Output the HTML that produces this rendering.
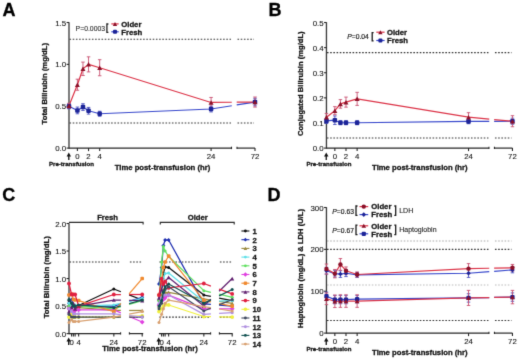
<!DOCTYPE html>
<html><head><meta charset="utf-8"><style>
html,body{margin:0;padding:0;background:#fff;}
body{width:520px;height:361px;overflow:hidden;font-family:"Liberation Sans", sans-serif;}
svg{display:block;}
</style></head><body>
<svg width="520" height="361" viewBox="0 0 520 361" font-family="&quot;Liberation Sans&quot;, sans-serif">
<defs><filter id="bl" x="0" y="0" width="520" height="361" filterUnits="userSpaceOnUse" color-interpolation-filters="sRGB"><feConvolveMatrix order="3" kernelMatrix="0.01134 0.08382 0.01134 0.08382 0.61935 0.08382 0.01134 0.08382 0.01134" divisor="1" edgeMode="duplicate"/></filter></defs>
<rect width="520" height="361" fill="#fff"/>
<g filter="url(#bl)">
<rect width="520" height="361" fill="#fff"/>
<text x="2.4" y="15.6" font-size="18" text-anchor="start" font-weight="bold" fill="#000" stroke="#000" stroke-width="0.3" >A</text>
<text x="268.6" y="15.6" font-size="18" text-anchor="start" font-weight="bold" fill="#000" stroke="#000" stroke-width="0.3" >B</text>
<text x="2.2" y="201.0" font-size="18" text-anchor="start" font-weight="bold" fill="#000" stroke="#000" stroke-width="0.3" >C</text>
<text x="267.4" y="200.6" font-size="18" text-anchor="start" font-weight="bold" fill="#000" stroke="#000" stroke-width="0.3" >D</text>
<line x1="69" y1="22.2" x2="69" y2="148.7" stroke="#3c3c3c" stroke-width="1.35" />
<line x1="66.6" y1="22.500000000000014" x2="69" y2="22.500000000000014" stroke="#262626" stroke-width="1.1" />
<text x="66.2" y="25.500000000000014" font-size="7.9" text-anchor="end" font-weight="normal" fill="#151515" stroke="#151515" stroke-width="0.1" >1.5</text>
<line x1="66.6" y1="64.36666666666666" x2="69" y2="64.36666666666666" stroke="#262626" stroke-width="1.1" />
<text x="66.2" y="67.36666666666666" font-size="7.9" text-anchor="end" font-weight="normal" fill="#151515" stroke="#151515" stroke-width="0.1" >1.0</text>
<line x1="66.6" y1="106.23333333333332" x2="69" y2="106.23333333333332" stroke="#262626" stroke-width="1.1" />
<text x="66.2" y="109.23333333333332" font-size="7.9" text-anchor="end" font-weight="normal" fill="#151515" stroke="#151515" stroke-width="0.1" >0.5</text>
<line x1="66.6" y1="148.1" x2="69" y2="148.1" stroke="#262626" stroke-width="1.1" />
<text x="66.2" y="151.1" font-size="7.9" text-anchor="end" font-weight="normal" fill="#151515" stroke="#151515" stroke-width="0.1" >0.0</text>
<line x1="69.5" y1="39.246666666666655" x2="231.0" y2="39.246666666666655" stroke="#333" stroke-width="1.1" stroke-dasharray="1.6 1.6" />
<line x1="237.5" y1="39.246666666666655" x2="254.0" y2="39.246666666666655" stroke="#333" stroke-width="1.1" stroke-dasharray="1.6 1.6" />
<line x1="69.5" y1="122.97999999999999" x2="231.0" y2="122.97999999999999" stroke="#333" stroke-width="1.1" stroke-dasharray="1.6 1.6" />
<line x1="237.5" y1="122.97999999999999" x2="254.0" y2="122.97999999999999" stroke="#333" stroke-width="1.1" stroke-dasharray="1.6 1.6" />
<line x1="69" y1="148.1" x2="231.5" y2="148.1" stroke="#262626" stroke-width="1.2" />
<line x1="237" y1="148.1" x2="255" y2="148.1" stroke="#262626" stroke-width="1.2" />
<line x1="231.5" y1="146.7" x2="231.5" y2="149.1" stroke="#262626" stroke-width="1.1" />
<line x1="237" y1="146.7" x2="237" y2="149.1" stroke="#262626" stroke-width="1.1" />
<line x1="77.4" y1="148.1" x2="77.4" y2="151.1" stroke="#262626" stroke-width="1.1" />
<text x="77.4" y="158.6" font-size="7.8" text-anchor="middle" font-weight="normal" fill="#151515" stroke="#151515" stroke-width="0.1" >0</text>
<line x1="88.54" y1="148.1" x2="88.54" y2="151.1" stroke="#262626" stroke-width="1.1" />
<text x="88.54" y="158.6" font-size="7.8" text-anchor="middle" font-weight="normal" fill="#151515" stroke="#151515" stroke-width="0.1" >2</text>
<line x1="99.68" y1="148.1" x2="99.68" y2="151.1" stroke="#262626" stroke-width="1.1" />
<text x="99.68" y="158.6" font-size="7.8" text-anchor="middle" font-weight="normal" fill="#151515" stroke="#151515" stroke-width="0.1" >4</text>
<line x1="211.08" y1="148.1" x2="211.08" y2="151.1" stroke="#262626" stroke-width="1.1" />
<text x="211.08" y="158.6" font-size="7.8" text-anchor="middle" font-weight="normal" fill="#151515" stroke="#151515" stroke-width="0.1" >24</text>
<line x1="255" y1="148.1" x2="255" y2="151.1" stroke="#262626" stroke-width="1.1" />
<text x="255" y="158.6" font-size="7.8" text-anchor="middle" font-weight="normal" fill="#151515" stroke="#151515" stroke-width="0.1" >72</text>
<line x1="68.8" y1="155.6" x2="68.8" y2="159.9" stroke="#111" stroke-width="1.3" />
<path d="M66.6,156.4 L71.0,156.4 L68.8,152.6Z" fill="#111"/>
<text x="71.5" y="165.95" font-size="6.1" text-anchor="middle" font-weight="bold" fill="#151515" stroke="#151515" stroke-width="0.3" >Pre-transfusion</text>
<text x="162.5" y="169.9" font-size="7.7" text-anchor="middle" font-weight="bold" fill="#151515" stroke="#151515" stroke-width="0.3" >Time post-transfusion (hr)</text>
<text transform="translate(47.1,83.72) rotate(-90)" font-size="7.7" text-anchor="middle" font-weight="bold" fill="#151515" stroke="#151515" stroke-width="0.3">Total Bilirubin (mg/dL)</text>
<polyline points="69.00,106.23 77.40,110.42 82.97,107.07 88.54,110.75 99.68,113.77 211.08,109.00 231.80,105.72" fill="none" stroke="#3848cc" stroke-width="1.2" stroke-linejoin="round"/>
<polyline points="236.70,104.94 255.00,102.05" fill="none" stroke="#3848cc" stroke-width="1.2" stroke-linejoin="round"/>
<polyline points="69.00,105.81 77.40,84.71 82.97,68.80 88.54,64.37 99.68,67.72 211.08,102.47 231.80,102.27" fill="none" stroke="#dc3448" stroke-width="1.2" stroke-linejoin="round"/>
<polyline points="236.70,102.22 255.00,102.05" fill="none" stroke="#dc3448" stroke-width="1.2" stroke-linejoin="round"/>
<line x1="69" y1="103.72233333333332" x2="69" y2="108.74433333333332" stroke="#4a50c0" stroke-width="0.9" />
<line x1="67.25" y1="103.72233333333332" x2="70.75" y2="103.72233333333332" stroke="#4a50c0" stroke-width="0.9" />
<line x1="67.25" y1="108.74433333333332" x2="70.75" y2="108.74433333333332" stroke="#4a50c0" stroke-width="0.9" />
<line x1="77.4" y1="107.07199999999999" x2="77.4" y2="113.76799999999999" stroke="#4a50c0" stroke-width="0.9" />
<line x1="75.65" y1="107.07199999999999" x2="79.15" y2="107.07199999999999" stroke="#4a50c0" stroke-width="0.9" />
<line x1="75.65" y1="113.76799999999999" x2="79.15" y2="113.76799999999999" stroke="#4a50c0" stroke-width="0.9" />
<line x1="82.97" y1="103.72266666666665" x2="82.97" y2="110.41866666666665" stroke="#4a50c0" stroke-width="0.9" />
<line x1="81.22" y1="103.72266666666665" x2="84.72" y2="103.72266666666665" stroke="#4a50c0" stroke-width="0.9" />
<line x1="81.22" y1="110.41866666666665" x2="84.72" y2="110.41866666666665" stroke="#4a50c0" stroke-width="0.9" />
<line x1="88.54" y1="107.40693333333333" x2="88.54" y2="114.10293333333333" stroke="#4a50c0" stroke-width="0.9" />
<line x1="86.79" y1="107.40693333333333" x2="90.29" y2="107.40693333333333" stroke="#4a50c0" stroke-width="0.9" />
<line x1="86.79" y1="114.10293333333333" x2="90.29" y2="114.10293333333333" stroke="#4a50c0" stroke-width="0.9" />
<line x1="99.68" y1="111.25833333333333" x2="99.68" y2="116.28033333333332" stroke="#4a50c0" stroke-width="0.9" />
<line x1="97.93" y1="111.25833333333333" x2="101.43" y2="111.25833333333333" stroke="#4a50c0" stroke-width="0.9" />
<line x1="97.93" y1="116.28033333333332" x2="101.43" y2="116.28033333333332" stroke="#4a50c0" stroke-width="0.9" />
<line x1="211.08" y1="106.06703333333333" x2="211.08" y2="111.92603333333334" stroke="#4a50c0" stroke-width="0.9" />
<line x1="209.33" y1="106.06703333333333" x2="212.83" y2="106.06703333333333" stroke="#4a50c0" stroke-width="0.9" />
<line x1="209.33" y1="111.92603333333334" x2="212.83" y2="111.92603333333334" stroke="#4a50c0" stroke-width="0.9" />
<line x1="255" y1="98.28016666666666" x2="255" y2="105.81316666666665" stroke="#4a50c0" stroke-width="0.9" />
<line x1="253.25" y1="98.28016666666666" x2="256.75" y2="98.28016666666666" stroke="#4a50c0" stroke-width="0.9" />
<line x1="253.25" y1="105.81316666666665" x2="256.75" y2="105.81316666666665" stroke="#4a50c0" stroke-width="0.9" />
<line x1="69" y1="103.30366666666666" x2="69" y2="108.32566666666665" stroke="#c85070" stroke-width="0.9" />
<line x1="67.25" y1="103.30366666666666" x2="70.75" y2="103.30366666666666" stroke="#c85070" stroke-width="0.9" />
<line x1="67.25" y1="108.32566666666665" x2="70.75" y2="108.32566666666665" stroke="#c85070" stroke-width="0.9" />
<line x1="77.4" y1="79.18966666666665" x2="77.4" y2="90.23806666666667" stroke="#c85070" stroke-width="0.9" />
<line x1="75.65" y1="79.18966666666665" x2="79.15" y2="79.18966666666665" stroke="#c85070" stroke-width="0.9" />
<line x1="75.65" y1="90.23806666666667" x2="79.15" y2="90.23806666666667" stroke="#c85070" stroke-width="0.9" />
<line x1="82.97" y1="62.10853333333334" x2="82.97" y2="75.50053333333334" stroke="#c85070" stroke-width="0.9" />
<line x1="81.22" y1="62.10853333333334" x2="84.72" y2="62.10853333333334" stroke="#c85070" stroke-width="0.9" />
<line x1="81.22" y1="75.50053333333334" x2="84.72" y2="75.50053333333334" stroke="#c85070" stroke-width="0.9" />
<line x1="88.54" y1="56.83366666666666" x2="88.54" y2="71.89966666666666" stroke="#c85070" stroke-width="0.9" />
<line x1="86.79" y1="56.83366666666666" x2="90.29" y2="56.83366666666666" stroke="#c85070" stroke-width="0.9" />
<line x1="86.79" y1="71.89966666666666" x2="90.29" y2="71.89966666666666" stroke="#c85070" stroke-width="0.9" />
<line x1="99.68" y1="59.68079999999999" x2="99.68" y2="75.7512" stroke="#c85070" stroke-width="0.9" />
<line x1="97.93" y1="59.68079999999999" x2="101.43" y2="59.68079999999999" stroke="#c85070" stroke-width="0.9" />
<line x1="97.93" y1="75.7512" x2="101.43" y2="75.7512" stroke="#c85070" stroke-width="0.9" />
<line x1="211.08" y1="97.44333333333331" x2="211.08" y2="107.48733333333332" stroke="#c85070" stroke-width="0.9" />
<line x1="209.33" y1="97.44333333333331" x2="212.83" y2="97.44333333333331" stroke="#c85070" stroke-width="0.9" />
<line x1="209.33" y1="107.48733333333332" x2="212.83" y2="107.48733333333332" stroke="#c85070" stroke-width="0.9" />
<line x1="255" y1="97.02466666666665" x2="255" y2="107.06866666666666" stroke="#c85070" stroke-width="0.9" />
<line x1="253.25" y1="97.02466666666665" x2="256.75" y2="97.02466666666665" stroke="#c85070" stroke-width="0.9" />
<line x1="253.25" y1="107.06866666666666" x2="256.75" y2="107.06866666666666" stroke="#c85070" stroke-width="0.9" />
<rect x="66.75" y="103.98" width="4.5" height="4.5" rx="1" fill="#1c2498"/>
<rect x="75.15" y="108.17" width="4.5" height="4.5" rx="1" fill="#1c2498"/>
<rect x="80.72" y="104.82" width="4.5" height="4.5" rx="1" fill="#1c2498"/>
<rect x="86.29" y="108.50" width="4.5" height="4.5" rx="1" fill="#1c2498"/>
<rect x="97.43" y="111.52" width="4.5" height="4.5" rx="1" fill="#1c2498"/>
<rect x="208.83" y="106.75" width="4.5" height="4.5" rx="1" fill="#1c2498"/>
<rect x="252.75" y="99.80" width="4.5" height="4.5" rx="1" fill="#1c2498"/>
<path d="M66.50,108.06 L71.50,108.06 L69.00,103.56Z" fill="#8c1028"/>
<path d="M74.90,86.96 L79.90,86.96 L77.40,82.46Z" fill="#8c1028"/>
<path d="M80.47,71.05 L85.47,71.05 L82.97,66.55Z" fill="#8c1028"/>
<path d="M86.04,66.62 L91.04,66.62 L88.54,62.12Z" fill="#8c1028"/>
<path d="M97.18,69.97 L102.18,69.97 L99.68,65.47Z" fill="#8c1028"/>
<path d="M208.58,104.72 L213.58,104.72 L211.08,100.22Z" fill="#8c1028"/>
<path d="M252.50,104.30 L257.50,104.30 L255.00,99.80Z" fill="#8c1028"/>
<text x="75.6" y="30.6" font-size="6.85" text-anchor="start" font-weight="normal" fill="#2a2a2a" stroke="#2a2a2a" stroke-width="0.1" >P=0.0003</text>
<path d="M108.4,24.0 H106.9 V32.4 H108.4" fill="none" stroke="#222" stroke-width="1.3"/>
<line x1="111.3" y1="23.9" x2="118.7" y2="23.9" stroke="#dc3448" stroke-width="1.2" />
<path d="M112.80,25.88 L117.20,25.88 L115.00,21.92Z" fill="#8c1028"/>
<line x1="111.3" y1="31.8" x2="118.7" y2="31.8" stroke="#3848cc" stroke-width="1.2" />
<rect x="113.00" y="29.80" width="4.0" height="4.0" rx="1" fill="#1c2498"/>
<text x="121.3" y="26.7" font-size="7.7" text-anchor="start" font-weight="bold" fill="#151515" stroke="#151515" stroke-width="0.3" >Older</text>
<text x="121.3" y="34.6" font-size="7.7" text-anchor="start" font-weight="bold" fill="#151515" stroke="#151515" stroke-width="0.3" >Fresh</text>
<line x1="326.45" y1="22.2" x2="326.45" y2="148.7" stroke="#3c3c3c" stroke-width="1.35" />
<line x1="324.05" y1="22.5" x2="326.45" y2="22.5" stroke="#262626" stroke-width="1.1" />
<text x="323.65" y="25.5" font-size="7.9" text-anchor="end" font-weight="normal" fill="#151515" stroke="#151515" stroke-width="0.1" >0.5</text>
<line x1="324.05" y1="47.61999999999999" x2="326.45" y2="47.61999999999999" stroke="#262626" stroke-width="1.1" />
<text x="323.65" y="50.61999999999999" font-size="7.9" text-anchor="end" font-weight="normal" fill="#151515" stroke="#151515" stroke-width="0.1" >0.4</text>
<line x1="324.05" y1="72.74" x2="326.45" y2="72.74" stroke="#262626" stroke-width="1.1" />
<text x="323.65" y="75.74" font-size="7.9" text-anchor="end" font-weight="normal" fill="#151515" stroke="#151515" stroke-width="0.1" >0.3</text>
<line x1="324.05" y1="97.85999999999999" x2="326.45" y2="97.85999999999999" stroke="#262626" stroke-width="1.1" />
<text x="323.65" y="100.85999999999999" font-size="7.9" text-anchor="end" font-weight="normal" fill="#151515" stroke="#151515" stroke-width="0.1" >0.2</text>
<line x1="324.05" y1="122.97999999999999" x2="326.45" y2="122.97999999999999" stroke="#262626" stroke-width="1.1" />
<text x="323.65" y="125.97999999999999" font-size="7.9" text-anchor="end" font-weight="normal" fill="#151515" stroke="#151515" stroke-width="0.1" >0.1</text>
<line x1="324.05" y1="148.1" x2="326.45" y2="148.1" stroke="#262626" stroke-width="1.1" />
<text x="323.65" y="151.1" font-size="7.9" text-anchor="end" font-weight="normal" fill="#151515" stroke="#151515" stroke-width="0.1" >0.0</text>
<line x1="326.95" y1="52.64399999999999" x2="488.45" y2="52.64399999999999" stroke="#333" stroke-width="1.1" stroke-dasharray="1.6 1.6" />
<line x1="494.95" y1="52.64399999999999" x2="511.45000000000005" y2="52.64399999999999" stroke="#333" stroke-width="1.1" stroke-dasharray="1.6 1.6" />
<line x1="326.95" y1="138.052" x2="488.45" y2="138.052" stroke="#333" stroke-width="1.1" stroke-dasharray="1.6 1.6" />
<line x1="494.95" y1="138.052" x2="511.45000000000005" y2="138.052" stroke="#333" stroke-width="1.1" stroke-dasharray="1.6 1.6" />
<line x1="326.45" y1="148.1" x2="488.95" y2="148.1" stroke="#262626" stroke-width="1.2" />
<line x1="494.45" y1="148.1" x2="512.45" y2="148.1" stroke="#262626" stroke-width="1.2" />
<line x1="488.95" y1="146.7" x2="488.95" y2="149.1" stroke="#262626" stroke-width="1.1" />
<line x1="494.45" y1="146.7" x2="494.45" y2="149.1" stroke="#262626" stroke-width="1.1" />
<line x1="334.84999999999997" y1="148.1" x2="334.84999999999997" y2="151.1" stroke="#262626" stroke-width="1.1" />
<text x="334.84999999999997" y="158.6" font-size="7.8" text-anchor="middle" font-weight="normal" fill="#151515" stroke="#151515" stroke-width="0.1" >0</text>
<line x1="345.98999999999995" y1="148.1" x2="345.98999999999995" y2="151.1" stroke="#262626" stroke-width="1.1" />
<text x="345.98999999999995" y="158.6" font-size="7.8" text-anchor="middle" font-weight="normal" fill="#151515" stroke="#151515" stroke-width="0.1" >2</text>
<line x1="357.13" y1="148.1" x2="357.13" y2="151.1" stroke="#262626" stroke-width="1.1" />
<text x="357.13" y="158.6" font-size="7.8" text-anchor="middle" font-weight="normal" fill="#151515" stroke="#151515" stroke-width="0.1" >4</text>
<line x1="468.53" y1="148.1" x2="468.53" y2="151.1" stroke="#262626" stroke-width="1.1" />
<text x="468.53" y="158.6" font-size="7.8" text-anchor="middle" font-weight="normal" fill="#151515" stroke="#151515" stroke-width="0.1" >24</text>
<line x1="512.45" y1="148.1" x2="512.45" y2="151.1" stroke="#262626" stroke-width="1.1" />
<text x="512.45" y="158.6" font-size="7.8" text-anchor="middle" font-weight="normal" fill="#151515" stroke="#151515" stroke-width="0.1" >72</text>
<line x1="326.25" y1="155.6" x2="326.25" y2="159.9" stroke="#111" stroke-width="1.3" />
<path d="M324.05,156.4 L328.45,156.4 L326.25,152.6Z" fill="#111"/>
<text x="328.95" y="165.95" font-size="6.1" text-anchor="middle" font-weight="bold" fill="#151515" stroke="#151515" stroke-width="0.3" >Pre-transfusion</text>
<text x="419.85" y="169.5" font-size="7.7" text-anchor="middle" font-weight="bold" fill="#151515" stroke="#151515" stroke-width="0.3" >Time post-transfusion (hr)</text>
<text transform="translate(303.4,83.75) rotate(-90)" font-size="7.6" text-anchor="middle" font-weight="bold" fill="#151515" stroke="#151515" stroke-width="0.3">Conjugated Bilirubin (mg/dL)</text>
<polyline points="326.45,120.97 334.85,120.22 340.42,122.73 345.99,122.73 357.13,122.73 468.53,121.47 489.25,121.35" fill="none" stroke="#3848cc" stroke-width="1.2" stroke-linejoin="round"/>
<polyline points="494.15,121.33 512.45,121.22" fill="none" stroke="#3848cc" stroke-width="1.2" stroke-linejoin="round"/>
<polyline points="326.45,117.20 334.85,110.67 340.42,103.89 345.99,102.13 357.13,98.86 468.53,117.20 489.25,119.10" fill="none" stroke="#dc3448" stroke-width="1.2" stroke-linejoin="round"/>
<polyline points="494.15,119.55 512.45,121.22" fill="none" stroke="#dc3448" stroke-width="1.2" stroke-linejoin="round"/>
<line x1="326.45" y1="118.4584" x2="326.45" y2="123.4824" stroke="#4a50c0" stroke-width="0.9" />
<line x1="324.7" y1="118.4584" x2="328.2" y2="118.4584" stroke="#4a50c0" stroke-width="0.9" />
<line x1="324.7" y1="123.4824" x2="328.2" y2="123.4824" stroke="#4a50c0" stroke-width="0.9" />
<line x1="334.84999999999997" y1="115.9464" x2="334.84999999999997" y2="124.48719999999999" stroke="#4a50c0" stroke-width="0.9" />
<line x1="333.09999999999997" y1="115.9464" x2="336.59999999999997" y2="115.9464" stroke="#4a50c0" stroke-width="0.9" />
<line x1="333.09999999999997" y1="124.48719999999999" x2="336.59999999999997" y2="124.48719999999999" stroke="#4a50c0" stroke-width="0.9" />
<line x1="340.41999999999996" y1="120.71919999999999" x2="340.41999999999996" y2="124.7384" stroke="#4a50c0" stroke-width="0.9" />
<line x1="338.66999999999996" y1="120.71919999999999" x2="342.16999999999996" y2="120.71919999999999" stroke="#4a50c0" stroke-width="0.9" />
<line x1="338.66999999999996" y1="124.7384" x2="342.16999999999996" y2="124.7384" stroke="#4a50c0" stroke-width="0.9" />
<line x1="345.98999999999995" y1="120.71919999999999" x2="345.98999999999995" y2="124.7384" stroke="#4a50c0" stroke-width="0.9" />
<line x1="344.23999999999995" y1="120.71919999999999" x2="347.73999999999995" y2="120.71919999999999" stroke="#4a50c0" stroke-width="0.9" />
<line x1="344.23999999999995" y1="124.7384" x2="347.73999999999995" y2="124.7384" stroke="#4a50c0" stroke-width="0.9" />
<line x1="357.13" y1="120.71919999999999" x2="357.13" y2="124.7384" stroke="#4a50c0" stroke-width="0.9" />
<line x1="355.38" y1="120.71919999999999" x2="358.88" y2="120.71919999999999" stroke="#4a50c0" stroke-width="0.9" />
<line x1="355.38" y1="124.7384" x2="358.88" y2="124.7384" stroke="#4a50c0" stroke-width="0.9" />
<line x1="468.53" y1="119.21199999999999" x2="468.53" y2="123.7336" stroke="#4a50c0" stroke-width="0.9" />
<line x1="466.78" y1="119.21199999999999" x2="470.28" y2="119.21199999999999" stroke="#4a50c0" stroke-width="0.9" />
<line x1="466.78" y1="123.7336" x2="470.28" y2="123.7336" stroke="#4a50c0" stroke-width="0.9" />
<line x1="512.45" y1="118.2072" x2="512.45" y2="124.23599999999999" stroke="#4a50c0" stroke-width="0.9" />
<line x1="510.70000000000005" y1="118.2072" x2="514.2" y2="118.2072" stroke="#4a50c0" stroke-width="0.9" />
<line x1="510.70000000000005" y1="124.23599999999999" x2="514.2" y2="124.23599999999999" stroke="#4a50c0" stroke-width="0.9" />
<line x1="326.45" y1="113.4344" x2="326.45" y2="120.9704" stroke="#c85070" stroke-width="0.9" />
<line x1="324.7" y1="113.4344" x2="328.2" y2="113.4344" stroke="#c85070" stroke-width="0.9" />
<line x1="324.7" y1="120.9704" x2="328.2" y2="120.9704" stroke="#c85070" stroke-width="0.9" />
<line x1="334.84999999999997" y1="106.652" x2="334.84999999999997" y2="114.6904" stroke="#c85070" stroke-width="0.9" />
<line x1="333.09999999999997" y1="106.652" x2="336.59999999999997" y2="106.652" stroke="#c85070" stroke-width="0.9" />
<line x1="333.09999999999997" y1="114.6904" x2="336.59999999999997" y2="114.6904" stroke="#c85070" stroke-width="0.9" />
<line x1="340.41999999999996" y1="99.61840000000001" x2="340.41999999999996" y2="108.1592" stroke="#c85070" stroke-width="0.9" />
<line x1="338.66999999999996" y1="99.61840000000001" x2="342.16999999999996" y2="99.61840000000001" stroke="#c85070" stroke-width="0.9" />
<line x1="338.66999999999996" y1="108.1592" x2="342.16999999999996" y2="108.1592" stroke="#c85070" stroke-width="0.9" />
<line x1="345.98999999999995" y1="97.1064" x2="345.98999999999995" y2="107.1544" stroke="#c85070" stroke-width="0.9" />
<line x1="344.23999999999995" y1="97.1064" x2="347.73999999999995" y2="97.1064" stroke="#c85070" stroke-width="0.9" />
<line x1="344.23999999999995" y1="107.1544" x2="347.73999999999995" y2="107.1544" stroke="#c85070" stroke-width="0.9" />
<line x1="357.13" y1="92.3336" x2="357.13" y2="105.396" stroke="#c85070" stroke-width="0.9" />
<line x1="355.38" y1="92.3336" x2="358.88" y2="92.3336" stroke="#c85070" stroke-width="0.9" />
<line x1="355.38" y1="105.396" x2="358.88" y2="105.396" stroke="#c85070" stroke-width="0.9" />
<line x1="468.53" y1="112.6808" x2="468.53" y2="121.72399999999999" stroke="#c85070" stroke-width="0.9" />
<line x1="466.78" y1="112.6808" x2="470.28" y2="112.6808" stroke="#c85070" stroke-width="0.9" />
<line x1="466.78" y1="121.72399999999999" x2="470.28" y2="121.72399999999999" stroke="#c85070" stroke-width="0.9" />
<line x1="512.45" y1="115.6952" x2="512.45" y2="126.74799999999999" stroke="#c85070" stroke-width="0.9" />
<line x1="510.70000000000005" y1="115.6952" x2="514.2" y2="115.6952" stroke="#c85070" stroke-width="0.9" />
<line x1="510.70000000000005" y1="126.74799999999999" x2="514.2" y2="126.74799999999999" stroke="#c85070" stroke-width="0.9" />
<rect x="324.20" y="118.72" width="4.5" height="4.5" rx="1" fill="#1c2498"/>
<rect x="332.60" y="117.97" width="4.5" height="4.5" rx="1" fill="#1c2498"/>
<rect x="338.17" y="120.48" width="4.5" height="4.5" rx="1" fill="#1c2498"/>
<rect x="343.74" y="120.48" width="4.5" height="4.5" rx="1" fill="#1c2498"/>
<rect x="354.88" y="120.48" width="4.5" height="4.5" rx="1" fill="#1c2498"/>
<rect x="466.28" y="119.22" width="4.5" height="4.5" rx="1" fill="#1c2498"/>
<rect x="510.20" y="118.97" width="4.5" height="4.5" rx="1" fill="#1c2498"/>
<path d="M323.95,119.45 L328.95,119.45 L326.45,114.95Z" fill="#8c1028"/>
<path d="M332.35,112.92 L337.35,112.92 L334.85,108.42Z" fill="#8c1028"/>
<path d="M337.92,106.14 L342.92,106.14 L340.42,101.64Z" fill="#8c1028"/>
<path d="M343.49,104.38 L348.49,104.38 L345.99,99.88Z" fill="#8c1028"/>
<path d="M354.63,101.11 L359.63,101.11 L357.13,96.61Z" fill="#8c1028"/>
<path d="M466.03,119.45 L471.03,119.45 L468.53,114.95Z" fill="#8c1028"/>
<path d="M509.95,123.47 L514.95,123.47 L512.45,118.97Z" fill="#8c1028"/>
<text x="347.2" y="38.8" font-size="6.75" fill="#1a1a1a" stroke="#1a1a1a" stroke-width="0.18"><tspan font-style="italic">P</tspan>=0.04</text>
<path d="M373.6,32.6 H372.2 V40.8 H373.6" fill="none" stroke="#1a1a1a" stroke-width="1.3"/>
<line x1="376.3" y1="32.2" x2="384.6" y2="32.2" stroke="#dc3448" stroke-width="1.2" />
<path d="M378.20,34.18 L382.60,34.18 L380.40,30.22Z" fill="#8c1028"/>
<line x1="376.3" y1="40.5" x2="384.6" y2="40.5" stroke="#3848cc" stroke-width="1.2" />
<rect x="378.40" y="38.50" width="4.0" height="4.0" rx="1" fill="#1c2498"/>
<text x="387.0" y="35.0" font-size="7.7" text-anchor="start" font-weight="bold" fill="#151515" stroke="#151515" stroke-width="0.3" >Older</text>
<text x="387.0" y="43.3" font-size="7.7" text-anchor="start" font-weight="bold" fill="#151515" stroke="#151515" stroke-width="0.3" >Fresh</text>
<line x1="69" y1="223.2" x2="69" y2="334.20000000000005" stroke="#3c3c3c" stroke-width="1.35" />
<line x1="66.6" y1="223.5" x2="69" y2="223.5" stroke="#262626" stroke-width="1.1" />
<text x="66.2" y="226.5" font-size="7.9" text-anchor="end" font-weight="normal" fill="#151515" stroke="#151515" stroke-width="0.1" >2.0</text>
<line x1="66.6" y1="251.025" x2="69" y2="251.025" stroke="#262626" stroke-width="1.1" />
<text x="66.2" y="254.025" font-size="7.9" text-anchor="end" font-weight="normal" fill="#151515" stroke="#151515" stroke-width="0.1" >1.5</text>
<line x1="66.6" y1="278.55" x2="69" y2="278.55" stroke="#262626" stroke-width="1.1" />
<text x="66.2" y="281.55" font-size="7.9" text-anchor="end" font-weight="normal" fill="#151515" stroke="#151515" stroke-width="0.1" >1.0</text>
<line x1="66.6" y1="306.07500000000005" x2="69" y2="306.07500000000005" stroke="#262626" stroke-width="1.1" />
<text x="66.2" y="309.07500000000005" font-size="7.9" text-anchor="end" font-weight="normal" fill="#151515" stroke="#151515" stroke-width="0.1" >0.5</text>
<line x1="66.6" y1="333.6" x2="69" y2="333.6" stroke="#262626" stroke-width="1.1" />
<text x="66.2" y="336.6" font-size="7.9" text-anchor="end" font-weight="normal" fill="#151515" stroke="#151515" stroke-width="0.1" >0.0</text>
<line x1="69.5" y1="262.035" x2="120.1" y2="262.035" stroke="#2a2a2a" stroke-width="1.1" stroke-dasharray="1.6 1.6" />
<line x1="69.5" y1="317.08500000000004" x2="120.1" y2="317.08500000000004" stroke="#2a2a2a" stroke-width="1.1" stroke-dasharray="1.6 1.6" />
<line x1="129.9" y1="262.035" x2="142.7" y2="262.035" stroke="#2a2a2a" stroke-width="1.1" stroke-dasharray="1.6 1.6" />
<line x1="129.9" y1="317.08500000000004" x2="142.7" y2="317.08500000000004" stroke="#2a2a2a" stroke-width="1.1" stroke-dasharray="1.6 1.6" />
<line x1="159.4" y1="262.035" x2="210.1" y2="262.035" stroke="#2a2a2a" stroke-width="1.1" stroke-dasharray="1.6 1.6" />
<line x1="159.4" y1="317.08500000000004" x2="210.1" y2="317.08500000000004" stroke="#2a2a2a" stroke-width="1.1" stroke-dasharray="1.6 1.6" />
<line x1="219.9" y1="262.035" x2="232.1" y2="262.035" stroke="#2a2a2a" stroke-width="1.1" stroke-dasharray="1.6 1.6" />
<line x1="219.9" y1="317.08500000000004" x2="232.1" y2="317.08500000000004" stroke="#2a2a2a" stroke-width="1.1" stroke-dasharray="1.6 1.6" />
<line x1="69" y1="333.6" x2="120.6" y2="333.6" stroke="#262626" stroke-width="1.2" />
<line x1="129.4" y1="333.6" x2="143.2" y2="333.6" stroke="#262626" stroke-width="1.2" />
<line x1="120.6" y1="332.20000000000005" x2="120.6" y2="334.6" stroke="#262626" stroke-width="1.1" />
<line x1="129.4" y1="332.20000000000005" x2="129.4" y2="334.6" stroke="#262626" stroke-width="1.1" />
<line x1="71.6" y1="333.6" x2="71.6" y2="336.40000000000003" stroke="#262626" stroke-width="1.1" />
<line x1="73.36" y1="333.6" x2="73.36" y2="336.40000000000003" stroke="#262626" stroke-width="1.1" />
<line x1="75.11999999999999" y1="333.6" x2="75.11999999999999" y2="336.40000000000003" stroke="#262626" stroke-width="1.1" />
<line x1="78.64" y1="333.6" x2="78.64" y2="336.40000000000003" stroke="#262626" stroke-width="1.1" />
<line x1="113.84" y1="333.6" x2="113.84" y2="336.40000000000003" stroke="#262626" stroke-width="1.1" />
<line x1="142.2" y1="333.6" x2="142.2" y2="336.40000000000003" stroke="#262626" stroke-width="1.1" />
<text x="71.6" y="344.70000000000005" font-size="7.8" text-anchor="middle" font-weight="normal" fill="#151515" stroke="#151515" stroke-width="0.1" >0</text>
<text x="78.64" y="344.70000000000005" font-size="7.8" text-anchor="middle" font-weight="normal" fill="#151515" stroke="#151515" stroke-width="0.1" >4</text>
<text x="113.84" y="344.70000000000005" font-size="7.8" text-anchor="middle" font-weight="normal" fill="#151515" stroke="#151515" stroke-width="0.1" >24</text>
<text x="142.2" y="344.70000000000005" font-size="7.8" text-anchor="middle" font-weight="normal" fill="#151515" stroke="#151515" stroke-width="0.1" >72</text>
<line x1="68.7" y1="340.6" x2="68.7" y2="345.0" stroke="#111" stroke-width="1.3" />
<path d="M66.5,341.40000000000003 L70.9,341.40000000000003 L68.7,337.6Z" fill="#111"/>
<line x1="158.9" y1="333.6" x2="210.6" y2="333.6" stroke="#262626" stroke-width="1.2" />
<line x1="219.4" y1="333.6" x2="232.6" y2="333.6" stroke="#262626" stroke-width="1.2" />
<line x1="210.6" y1="332.20000000000005" x2="210.6" y2="334.6" stroke="#262626" stroke-width="1.1" />
<line x1="219.4" y1="332.20000000000005" x2="219.4" y2="334.6" stroke="#262626" stroke-width="1.1" />
<line x1="161.6" y1="333.6" x2="161.6" y2="336.40000000000003" stroke="#262626" stroke-width="1.1" />
<line x1="163.35999999999999" y1="333.6" x2="163.35999999999999" y2="336.40000000000003" stroke="#262626" stroke-width="1.1" />
<line x1="165.12" y1="333.6" x2="165.12" y2="336.40000000000003" stroke="#262626" stroke-width="1.1" />
<line x1="168.64" y1="333.6" x2="168.64" y2="336.40000000000003" stroke="#262626" stroke-width="1.1" />
<line x1="203.84" y1="333.6" x2="203.84" y2="336.40000000000003" stroke="#262626" stroke-width="1.1" />
<line x1="232.2" y1="333.6" x2="232.2" y2="336.40000000000003" stroke="#262626" stroke-width="1.1" />
<text x="161.6" y="344.70000000000005" font-size="7.8" text-anchor="middle" font-weight="normal" fill="#151515" stroke="#151515" stroke-width="0.1" >0</text>
<text x="168.64" y="344.70000000000005" font-size="7.8" text-anchor="middle" font-weight="normal" fill="#151515" stroke="#151515" stroke-width="0.1" >4</text>
<text x="203.84" y="344.70000000000005" font-size="7.8" text-anchor="middle" font-weight="normal" fill="#151515" stroke="#151515" stroke-width="0.1" >24</text>
<text x="232.2" y="344.70000000000005" font-size="7.8" text-anchor="middle" font-weight="normal" fill="#151515" stroke="#151515" stroke-width="0.1" >72</text>
<line x1="158.7" y1="340.6" x2="158.7" y2="345.0" stroke="#111" stroke-width="1.3" />
<path d="M156.5,341.40000000000003 L160.89999999999998,341.40000000000003 L158.7,337.6Z" fill="#111"/>
<path d="M69,222.3 H143.1 V224.6" fill="none" stroke="#2a2a2a" stroke-width="1.15"/>
<path d="M160.3,224.6 V222.3 H234.2 V224.6" fill="none" stroke="#2a2a2a" stroke-width="1.15"/>
<text x="107.6" y="220.1" font-size="7.7" text-anchor="middle" font-weight="bold" fill="#151515" stroke="#151515" stroke-width="0.3" >Fresh</text>
<text x="197.75" y="220.1" font-size="7.7" text-anchor="middle" font-weight="bold" fill="#151515" stroke="#151515" stroke-width="0.3" >Older</text>
<text x="150.0" y="351.3" font-size="7.7" text-anchor="middle" font-weight="bold" fill="#151515" stroke="#151515" stroke-width="0.3" >Time post-transfusion (hr)</text>
<text transform="translate(49.3,277.3) rotate(-90)" font-size="7.75" text-anchor="middle" font-weight="bold" fill="#151515" stroke="#151515" stroke-width="0.3">Total Bilirubin (mg/dL)</text>
<polyline points="69.00,300.57 71.60,303.32 73.36,306.08 75.12,307.18 78.64,305.52 113.84,289.01 120.90,291.75" fill="none" stroke="#111111" stroke-width="1.25" stroke-linejoin="round"/>
<polyline points="129.10,294.93 142.20,300.02" fill="none" stroke="#111111" stroke-width="1.25" stroke-linejoin="round"/>
<circle cx="69.00" cy="300.57" r="1.5" fill="#111111"/>
<circle cx="71.60" cy="303.32" r="1.5" fill="#111111"/>
<circle cx="73.36" cy="306.08" r="1.5" fill="#111111"/>
<circle cx="75.12" cy="307.18" r="1.5" fill="#111111"/>
<circle cx="78.64" cy="305.52" r="1.5" fill="#111111"/>
<circle cx="113.84" cy="289.01" r="1.5" fill="#111111"/>
<circle cx="142.20" cy="300.02" r="1.5" fill="#111111"/>
<polyline points="69.00,303.32 71.60,299.47 73.36,304.97 75.12,307.18 78.64,306.08 113.84,306.08 120.90,303.88" fill="none" stroke="#2030b0" stroke-width="1.25" stroke-linejoin="round"/>
<polyline points="129.10,301.34 142.20,297.27" fill="none" stroke="#2030b0" stroke-width="1.25" stroke-linejoin="round"/>
<path d="M69.00,301.32 L71.00,303.32 L69.00,305.32 L67.00,303.32Z" fill="#2030b0"/>
<path d="M71.60,297.47 L73.60,299.47 L71.60,301.47 L69.60,299.47Z" fill="#2030b0"/>
<path d="M73.36,302.97 L75.36,304.97 L73.36,306.97 L71.36,304.97Z" fill="#2030b0"/>
<path d="M75.12,305.18 L77.12,307.18 L75.12,309.18 L73.12,307.18Z" fill="#2030b0"/>
<path d="M78.64,304.08 L80.64,306.08 L78.64,308.08 L76.64,306.08Z" fill="#2030b0"/>
<path d="M113.84,304.08 L115.84,306.08 L113.84,308.08 L111.84,306.08Z" fill="#2030b0"/>
<path d="M142.20,295.27 L144.20,297.27 L142.20,299.27 L140.20,297.27Z" fill="#2030b0"/>
<polyline points="69.00,306.08 71.60,308.83 73.36,310.48 75.12,308.83 78.64,307.73 113.84,310.48 120.90,310.48" fill="none" stroke="#9a8a40" stroke-width="1.25" stroke-linejoin="round"/>
<polyline points="129.10,310.48 142.20,310.48" fill="none" stroke="#9a8a40" stroke-width="1.25" stroke-linejoin="round"/>
<path d="M67.08,307.80 L70.92,307.80 L69.00,304.35Z" fill="#9a8a40"/>
<path d="M69.68,310.56 L73.52,310.56 L71.60,307.10Z" fill="#9a8a40"/>
<path d="M71.44,312.21 L75.28,312.21 L73.36,308.75Z" fill="#9a8a40"/>
<path d="M73.20,310.56 L77.04,310.56 L75.12,307.10Z" fill="#9a8a40"/>
<path d="M76.72,309.45 L80.56,309.45 L78.64,306.00Z" fill="#9a8a40"/>
<path d="M111.92,312.21 L115.76,312.21 L113.84,308.75Z" fill="#9a8a40"/>
<path d="M140.28,312.21 L144.12,312.21 L142.20,308.75Z" fill="#9a8a40"/>
<polyline points="69.00,303.32 71.60,306.08 73.36,306.08 75.12,304.97 78.64,306.08 113.84,304.97 120.90,303.33" fill="none" stroke="#60e0e8" stroke-width="1.25" stroke-linejoin="round"/>
<polyline points="129.10,301.42 142.20,298.37" fill="none" stroke="#60e0e8" stroke-width="1.25" stroke-linejoin="round"/>
<circle cx="69.00" cy="303.32" r="1.5" fill="#60e0e8"/>
<circle cx="71.60" cy="306.08" r="1.5" fill="#60e0e8"/>
<circle cx="73.36" cy="306.08" r="1.5" fill="#60e0e8"/>
<circle cx="75.12" cy="304.97" r="1.5" fill="#60e0e8"/>
<circle cx="78.64" cy="306.08" r="1.5" fill="#60e0e8"/>
<circle cx="113.84" cy="304.97" r="1.5" fill="#60e0e8"/>
<circle cx="142.20" cy="298.37" r="1.5" fill="#60e0e8"/>
<polyline points="69.00,306.08 71.60,308.83 73.36,304.97 75.12,306.08 78.64,306.08 113.84,308.83 120.90,306.77" fill="none" stroke="#60e060" stroke-width="1.25" stroke-linejoin="round"/>
<polyline points="129.10,304.38 142.20,300.57" fill="none" stroke="#60e060" stroke-width="1.25" stroke-linejoin="round"/>
<circle cx="69.00" cy="306.08" r="1.5" fill="#60e060"/>
<circle cx="71.60" cy="308.83" r="1.5" fill="#60e060"/>
<circle cx="73.36" cy="304.97" r="1.5" fill="#60e060"/>
<circle cx="75.12" cy="306.08" r="1.5" fill="#60e060"/>
<circle cx="78.64" cy="306.08" r="1.5" fill="#60e060"/>
<circle cx="113.84" cy="308.83" r="1.5" fill="#60e060"/>
<circle cx="142.20" cy="300.57" r="1.5" fill="#60e060"/>
<polyline points="69.00,308.83 71.60,310.48 73.36,312.68 75.12,310.48 78.64,309.93 113.84,309.93 120.90,312.94" fill="none" stroke="#e040e0" stroke-width="1.25" stroke-linejoin="round"/>
<polyline points="129.10,316.45 142.20,322.04" fill="none" stroke="#e040e0" stroke-width="1.25" stroke-linejoin="round"/>
<path d="M69.00,306.45 L71.38,308.83 L69.00,311.20 L66.62,308.83Z" fill="#e040e0"/>
<path d="M71.60,308.10 L73.97,310.48 L71.60,312.85 L69.22,310.48Z" fill="#e040e0"/>
<path d="M73.36,310.31 L75.73,312.68 L73.36,315.06 L70.98,312.68Z" fill="#e040e0"/>
<path d="M75.12,308.10 L77.49,310.48 L75.12,312.85 L72.74,310.48Z" fill="#e040e0"/>
<path d="M78.64,307.55 L81.02,309.93 L78.64,312.30 L76.27,309.93Z" fill="#e040e0"/>
<path d="M113.84,307.55 L116.22,309.93 L113.84,312.30 L111.47,309.93Z" fill="#e040e0"/>
<path d="M142.20,319.66 L144.57,322.04 L142.20,324.41 L139.82,322.04Z" fill="#e040e0"/>
<polyline points="69.00,295.06 71.60,293.96 73.36,299.47 75.12,300.02 78.64,300.57 113.84,311.58 120.90,303.36" fill="none" stroke="#f08a30" stroke-width="1.25" stroke-linejoin="round"/>
<polyline points="129.10,293.81 142.20,278.55" fill="none" stroke="#f08a30" stroke-width="1.25" stroke-linejoin="round"/>
<rect x="67.19" y="293.26" width="3.61" height="3.61" rx="1" fill="#f08a30"/>
<rect x="69.79" y="292.16" width="3.61" height="3.61" rx="1" fill="#f08a30"/>
<rect x="71.55" y="297.66" width="3.61" height="3.61" rx="1" fill="#f08a30"/>
<rect x="73.31" y="298.21" width="3.61" height="3.61" rx="1" fill="#f08a30"/>
<rect x="76.83" y="298.76" width="3.61" height="3.61" rx="1" fill="#f08a30"/>
<rect x="112.03" y="309.78" width="3.61" height="3.61" rx="1" fill="#f08a30"/>
<rect x="140.39" y="276.75" width="3.61" height="3.61" rx="1" fill="#f08a30"/>
<polyline points="69.00,311.58 71.60,307.18 73.36,303.32 75.12,308.83 78.64,306.08 113.84,300.02 120.90,300.16" fill="none" stroke="#602070" stroke-width="1.25" stroke-linejoin="round"/>
<polyline points="129.10,300.32 142.20,300.57" fill="none" stroke="#602070" stroke-width="1.25" stroke-linejoin="round"/>
<path d="M66.96,313.42 L71.04,313.42 L69.00,309.74Z" fill="#602070"/>
<path d="M69.56,309.01 L73.64,309.01 L71.60,305.34Z" fill="#602070"/>
<path d="M71.32,305.16 L75.40,305.16 L73.36,301.49Z" fill="#602070"/>
<path d="M73.08,310.66 L77.16,310.66 L75.12,306.99Z" fill="#602070"/>
<path d="M76.60,307.91 L80.68,307.91 L78.64,304.24Z" fill="#602070"/>
<path d="M111.80,301.86 L115.88,301.86 L113.84,298.18Z" fill="#602070"/>
<path d="M140.16,302.41 L144.24,302.41 L142.20,298.73Z" fill="#602070"/>
<polyline points="69.00,283.50 71.60,294.51 73.36,294.51 75.12,294.51 78.64,306.08 113.84,294.51 120.90,294.51" fill="none" stroke="#e02040" stroke-width="1.25" stroke-linejoin="round"/>
<polyline points="129.10,294.51 142.20,294.51" fill="none" stroke="#e02040" stroke-width="1.25" stroke-linejoin="round"/>
<circle cx="69.00" cy="283.50" r="1.9" fill="#e02040"/>
<circle cx="71.60" cy="294.51" r="1.9" fill="#e02040"/>
<circle cx="73.36" cy="294.51" r="1.9" fill="#e02040"/>
<circle cx="75.12" cy="294.51" r="1.9" fill="#e02040"/>
<circle cx="78.64" cy="306.08" r="1.9" fill="#e02040"/>
<circle cx="113.84" cy="294.51" r="1.9" fill="#e02040"/>
<circle cx="142.20" cy="294.51" r="1.9" fill="#e02040"/>
<polyline points="69.00,317.09 71.60,314.33 73.36,317.09 75.12,317.09 78.64,317.09 113.84,317.09 120.90,316.81" fill="none" stroke="#f0f040" stroke-width="1.25" stroke-linejoin="round"/>
<polyline points="129.10,316.49 142.20,315.98" fill="none" stroke="#f0f040" stroke-width="1.25" stroke-linejoin="round"/>
<circle cx="69.00" cy="317.09" r="1.9" fill="#f0f040"/>
<circle cx="71.60" cy="314.33" r="1.9" fill="#f0f040"/>
<circle cx="73.36" cy="317.09" r="1.9" fill="#f0f040"/>
<circle cx="75.12" cy="317.09" r="1.9" fill="#f0f040"/>
<circle cx="78.64" cy="317.09" r="1.9" fill="#f0f040"/>
<circle cx="113.84" cy="317.09" r="1.9" fill="#f0f040"/>
<circle cx="142.20" cy="315.98" r="1.9" fill="#f0f040"/>
<polyline points="69.00,314.33 71.60,317.09 73.36,317.09 75.12,317.09 78.64,317.09 113.84,317.09 120.90,317.09" fill="none" stroke="#404a60" stroke-width="1.25" stroke-linejoin="round"/>
<polyline points="129.10,317.09 142.20,317.09" fill="none" stroke="#404a60" stroke-width="1.25" stroke-linejoin="round"/>
<circle cx="69.00" cy="314.33" r="1.5" fill="#404a60"/>
<circle cx="71.60" cy="317.09" r="1.5" fill="#404a60"/>
<circle cx="73.36" cy="317.09" r="1.5" fill="#404a60"/>
<circle cx="75.12" cy="317.09" r="1.5" fill="#404a60"/>
<circle cx="78.64" cy="317.09" r="1.5" fill="#404a60"/>
<circle cx="113.84" cy="317.09" r="1.5" fill="#404a60"/>
<circle cx="142.20" cy="317.09" r="1.5" fill="#404a60"/>
<polyline points="69.00,308.83 71.60,311.58 73.36,313.78 75.12,313.78 78.64,313.78 113.84,313.78 120.90,314.60" fill="none" stroke="#b090e0" stroke-width="1.25" stroke-linejoin="round"/>
<polyline points="129.10,315.56 142.20,317.09" fill="none" stroke="#b090e0" stroke-width="1.25" stroke-linejoin="round"/>
<circle cx="69.00" cy="308.83" r="1.5" fill="#b090e0"/>
<circle cx="71.60" cy="311.58" r="1.5" fill="#b090e0"/>
<circle cx="73.36" cy="313.78" r="1.5" fill="#b090e0"/>
<circle cx="75.12" cy="313.78" r="1.5" fill="#b090e0"/>
<circle cx="78.64" cy="313.78" r="1.5" fill="#b090e0"/>
<circle cx="113.84" cy="313.78" r="1.5" fill="#b090e0"/>
<circle cx="142.20" cy="317.09" r="1.5" fill="#b090e0"/>
<polyline points="69.00,299.47 71.60,303.32 73.36,306.08 75.12,306.08 78.64,304.97 113.84,307.73 120.90,305.81" fill="none" stroke="#105050" stroke-width="1.25" stroke-linejoin="round"/>
<polyline points="129.10,303.58 142.20,300.02" fill="none" stroke="#105050" stroke-width="1.25" stroke-linejoin="round"/>
<circle cx="69.00" cy="299.47" r="1.5" fill="#105050"/>
<circle cx="71.60" cy="303.32" r="1.5" fill="#105050"/>
<circle cx="73.36" cy="306.08" r="1.5" fill="#105050"/>
<circle cx="75.12" cy="306.08" r="1.5" fill="#105050"/>
<circle cx="78.64" cy="304.97" r="1.5" fill="#105050"/>
<circle cx="113.84" cy="307.73" r="1.5" fill="#105050"/>
<circle cx="142.20" cy="300.02" r="1.5" fill="#105050"/>
<polyline points="69.00,322.59 71.60,319.84 73.36,321.49 75.12,321.49 78.64,321.49 113.84,317.09 120.90,315.71" fill="none" stroke="#d8a070" stroke-width="1.25" stroke-linejoin="round"/>
<polyline points="129.10,314.12 142.20,311.58" fill="none" stroke="#d8a070" stroke-width="1.25" stroke-linejoin="round"/>
<circle cx="69.00" cy="322.59" r="1.5" fill="#d8a070"/>
<circle cx="71.60" cy="319.84" r="1.5" fill="#d8a070"/>
<circle cx="73.36" cy="321.49" r="1.5" fill="#d8a070"/>
<circle cx="75.12" cy="321.49" r="1.5" fill="#d8a070"/>
<circle cx="78.64" cy="321.49" r="1.5" fill="#d8a070"/>
<circle cx="113.84" cy="317.09" r="1.5" fill="#d8a070"/>
<circle cx="142.20" cy="311.58" r="1.5" fill="#d8a070"/>
<polyline points="159.00,300.57 161.60,284.06 163.36,273.05 165.12,266.99 168.64,267.54 203.84,295.06 210.90,296.44" fill="none" stroke="#111111" stroke-width="1.25" stroke-linejoin="round"/>
<polyline points="219.10,298.03 232.20,300.57" fill="none" stroke="#111111" stroke-width="1.25" stroke-linejoin="round"/>
<circle cx="159.00" cy="300.57" r="1.5" fill="#111111"/>
<circle cx="161.60" cy="284.06" r="1.5" fill="#111111"/>
<circle cx="163.36" cy="273.05" r="1.5" fill="#111111"/>
<circle cx="165.12" cy="266.99" r="1.5" fill="#111111"/>
<circle cx="168.64" cy="267.54" r="1.5" fill="#111111"/>
<circle cx="203.84" cy="295.06" r="1.5" fill="#111111"/>
<circle cx="232.20" cy="300.57" r="1.5" fill="#111111"/>
<polyline points="159.00,284.06 161.60,267.54 163.36,245.52 165.12,240.01 168.64,240.01 203.84,303.87 210.90,304.42" fill="none" stroke="#2030b0" stroke-width="1.25" stroke-linejoin="round"/>
<polyline points="219.10,305.06 232.20,306.08" fill="none" stroke="#2030b0" stroke-width="1.25" stroke-linejoin="round"/>
<path d="M159.00,282.06 L161.00,284.06 L159.00,286.06 L157.00,284.06Z" fill="#2030b0"/>
<path d="M161.60,265.54 L163.60,267.54 L161.60,269.54 L159.60,267.54Z" fill="#2030b0"/>
<path d="M163.36,243.52 L165.36,245.52 L163.36,247.52 L161.36,245.52Z" fill="#2030b0"/>
<path d="M165.12,238.01 L167.12,240.01 L165.12,242.01 L163.12,240.01Z" fill="#2030b0"/>
<path d="M168.64,238.01 L170.64,240.01 L168.64,242.01 L166.64,240.01Z" fill="#2030b0"/>
<path d="M203.84,301.87 L205.84,303.87 L203.84,305.87 L201.84,303.87Z" fill="#2030b0"/>
<path d="M232.20,304.08 L234.20,306.08 L232.20,308.08 L230.20,306.08Z" fill="#2030b0"/>
<polyline points="159.00,306.08 161.60,295.06 163.36,289.56 165.12,292.31 168.64,292.31 203.84,298.92 210.90,300.01" fill="none" stroke="#9a8a40" stroke-width="1.25" stroke-linejoin="round"/>
<polyline points="219.10,301.29 232.20,303.32" fill="none" stroke="#9a8a40" stroke-width="1.25" stroke-linejoin="round"/>
<path d="M157.08,307.80 L160.92,307.80 L159.00,304.35Z" fill="#9a8a40"/>
<path d="M159.68,296.79 L163.52,296.79 L161.60,293.34Z" fill="#9a8a40"/>
<path d="M161.44,291.29 L165.28,291.29 L163.36,287.83Z" fill="#9a8a40"/>
<path d="M163.20,294.04 L167.04,294.04 L165.12,290.58Z" fill="#9a8a40"/>
<path d="M166.72,294.04 L170.56,294.04 L168.64,290.58Z" fill="#9a8a40"/>
<path d="M201.92,300.65 L205.76,300.65 L203.84,297.19Z" fill="#9a8a40"/>
<path d="M230.28,305.05 L234.12,305.05 L232.20,301.59Z" fill="#9a8a40"/>
<polyline points="159.00,295.06 161.60,284.06 163.36,278.55 165.12,273.60 168.64,273.05 203.84,301.67 210.90,301.40" fill="none" stroke="#60e0e8" stroke-width="1.25" stroke-linejoin="round"/>
<polyline points="219.10,301.08 232.20,300.57" fill="none" stroke="#60e0e8" stroke-width="1.25" stroke-linejoin="round"/>
<circle cx="159.00" cy="295.06" r="1.5" fill="#60e0e8"/>
<circle cx="161.60" cy="284.06" r="1.5" fill="#60e0e8"/>
<circle cx="163.36" cy="278.55" r="1.5" fill="#60e0e8"/>
<circle cx="165.12" cy="273.60" r="1.5" fill="#60e0e8"/>
<circle cx="168.64" cy="273.05" r="1.5" fill="#60e0e8"/>
<circle cx="203.84" cy="301.67" r="1.5" fill="#60e0e8"/>
<circle cx="232.20" cy="300.57" r="1.5" fill="#60e0e8"/>
<polyline points="159.00,300.57 161.60,262.04 163.36,246.62 165.12,251.03 168.64,256.53 203.84,290.66 210.90,292.31" fill="none" stroke="#60e060" stroke-width="1.25" stroke-linejoin="round"/>
<polyline points="219.10,294.22 232.20,297.27" fill="none" stroke="#60e060" stroke-width="1.25" stroke-linejoin="round"/>
<circle cx="159.00" cy="300.57" r="1.5" fill="#60e060"/>
<circle cx="161.60" cy="262.04" r="1.5" fill="#60e060"/>
<circle cx="163.36" cy="246.62" r="1.5" fill="#60e060"/>
<circle cx="165.12" cy="251.03" r="1.5" fill="#60e060"/>
<circle cx="168.64" cy="256.53" r="1.5" fill="#60e060"/>
<circle cx="203.84" cy="290.66" r="1.5" fill="#60e060"/>
<circle cx="232.20" cy="297.27" r="1.5" fill="#60e060"/>
<polyline points="159.00,304.97 161.60,300.57 163.36,299.47 165.12,297.82 168.64,295.06 203.84,308.83 210.90,308.83" fill="none" stroke="#e040e0" stroke-width="1.25" stroke-linejoin="round"/>
<polyline points="219.10,308.83 232.20,308.83" fill="none" stroke="#e040e0" stroke-width="1.25" stroke-linejoin="round"/>
<path d="M159.00,302.60 L161.38,304.97 L159.00,307.35 L156.62,304.97Z" fill="#e040e0"/>
<path d="M161.60,298.19 L163.97,300.57 L161.60,302.94 L159.22,300.57Z" fill="#e040e0"/>
<path d="M163.36,297.09 L165.73,299.47 L163.36,301.84 L160.98,299.47Z" fill="#e040e0"/>
<path d="M165.12,295.44 L167.50,297.82 L165.12,300.19 L162.75,297.82Z" fill="#e040e0"/>
<path d="M168.64,292.69 L171.01,295.06 L168.64,297.44 L166.26,295.06Z" fill="#e040e0"/>
<path d="M203.84,306.45 L206.22,308.83 L203.84,311.20 L201.47,308.83Z" fill="#e040e0"/>
<path d="M232.20,306.45 L234.57,308.83 L232.20,311.20 L229.82,308.83Z" fill="#e040e0"/>
<polyline points="159.00,295.06 161.60,281.30 163.36,267.54 165.12,262.04 168.64,255.98 203.84,300.57 210.90,301.94" fill="none" stroke="#f08a30" stroke-width="1.25" stroke-linejoin="round"/>
<polyline points="219.10,303.53 232.20,306.08" fill="none" stroke="#f08a30" stroke-width="1.25" stroke-linejoin="round"/>
<rect x="157.19" y="293.26" width="3.61" height="3.61" rx="1" fill="#f08a30"/>
<rect x="159.79" y="279.50" width="3.61" height="3.61" rx="1" fill="#f08a30"/>
<rect x="161.55" y="265.74" width="3.61" height="3.61" rx="1" fill="#f08a30"/>
<rect x="163.31" y="260.23" width="3.61" height="3.61" rx="1" fill="#f08a30"/>
<rect x="166.83" y="254.17" width="3.61" height="3.61" rx="1" fill="#f08a30"/>
<rect x="202.03" y="298.76" width="3.61" height="3.61" rx="1" fill="#f08a30"/>
<rect x="230.39" y="304.27" width="3.61" height="3.61" rx="1" fill="#f08a30"/>
<polyline points="159.00,297.82 161.60,289.56 163.36,284.06 165.12,281.30 168.64,277.45 203.84,306.08 210.90,299.22" fill="none" stroke="#602070" stroke-width="1.25" stroke-linejoin="round"/>
<polyline points="219.10,291.26 232.20,278.55" fill="none" stroke="#602070" stroke-width="1.25" stroke-linejoin="round"/>
<path d="M156.96,299.65 L161.04,299.65 L159.00,295.98Z" fill="#602070"/>
<path d="M159.56,291.40 L163.64,291.40 L161.60,287.72Z" fill="#602070"/>
<path d="M161.32,285.89 L165.40,285.89 L163.36,282.22Z" fill="#602070"/>
<path d="M163.08,283.14 L167.16,283.14 L165.12,279.47Z" fill="#602070"/>
<path d="M166.60,279.29 L170.68,279.29 L168.64,275.61Z" fill="#602070"/>
<path d="M201.80,307.91 L205.88,307.91 L203.84,304.24Z" fill="#602070"/>
<path d="M230.16,280.39 L234.24,280.39 L232.20,276.71Z" fill="#602070"/>
<polyline points="159.00,295.06 161.60,278.55 163.36,284.06 165.12,281.30 168.64,287.91 203.84,283.50 210.90,286.11" fill="none" stroke="#e02040" stroke-width="1.25" stroke-linejoin="round"/>
<polyline points="219.10,289.13 232.20,293.96" fill="none" stroke="#e02040" stroke-width="1.25" stroke-linejoin="round"/>
<circle cx="159.00" cy="295.06" r="1.9" fill="#e02040"/>
<circle cx="161.60" cy="278.55" r="1.9" fill="#e02040"/>
<circle cx="163.36" cy="284.06" r="1.9" fill="#e02040"/>
<circle cx="165.12" cy="281.30" r="1.9" fill="#e02040"/>
<circle cx="168.64" cy="287.91" r="1.9" fill="#e02040"/>
<circle cx="203.84" cy="283.50" r="1.9" fill="#e02040"/>
<circle cx="232.20" cy="293.96" r="1.9" fill="#e02040"/>
<polyline points="159.00,311.58 161.60,308.83 163.36,306.08 165.12,304.97 168.64,304.97 203.84,316.53 210.90,316.67" fill="none" stroke="#f0f040" stroke-width="1.25" stroke-linejoin="round"/>
<polyline points="219.10,316.83 232.20,317.09" fill="none" stroke="#f0f040" stroke-width="1.25" stroke-linejoin="round"/>
<circle cx="159.00" cy="311.58" r="1.9" fill="#f0f040"/>
<circle cx="161.60" cy="308.83" r="1.9" fill="#f0f040"/>
<circle cx="163.36" cy="306.08" r="1.9" fill="#f0f040"/>
<circle cx="165.12" cy="304.97" r="1.9" fill="#f0f040"/>
<circle cx="168.64" cy="304.97" r="1.9" fill="#f0f040"/>
<circle cx="203.84" cy="316.53" r="1.9" fill="#f0f040"/>
<circle cx="232.20" cy="317.09" r="1.9" fill="#f0f040"/>
<polyline points="159.00,308.83 161.60,303.32 163.36,295.06 165.12,289.56 168.64,286.81 203.84,311.03 210.90,308.15" fill="none" stroke="#404a60" stroke-width="1.25" stroke-linejoin="round"/>
<polyline points="219.10,304.81 232.20,299.47" fill="none" stroke="#404a60" stroke-width="1.25" stroke-linejoin="round"/>
<circle cx="159.00" cy="308.83" r="1.5" fill="#404a60"/>
<circle cx="161.60" cy="303.32" r="1.5" fill="#404a60"/>
<circle cx="163.36" cy="295.06" r="1.5" fill="#404a60"/>
<circle cx="165.12" cy="289.56" r="1.5" fill="#404a60"/>
<circle cx="168.64" cy="286.81" r="1.5" fill="#404a60"/>
<circle cx="203.84" cy="311.03" r="1.5" fill="#404a60"/>
<circle cx="232.20" cy="299.47" r="1.5" fill="#404a60"/>
<polyline points="159.00,303.32 161.60,297.82 163.36,295.06 165.12,295.06 168.64,295.06 203.84,314.33 210.90,313.92" fill="none" stroke="#b090e0" stroke-width="1.25" stroke-linejoin="round"/>
<polyline points="219.10,313.44 232.20,312.68" fill="none" stroke="#b090e0" stroke-width="1.25" stroke-linejoin="round"/>
<circle cx="159.00" cy="303.32" r="1.5" fill="#b090e0"/>
<circle cx="161.60" cy="297.82" r="1.5" fill="#b090e0"/>
<circle cx="163.36" cy="295.06" r="1.5" fill="#b090e0"/>
<circle cx="165.12" cy="295.06" r="1.5" fill="#b090e0"/>
<circle cx="168.64" cy="295.06" r="1.5" fill="#b090e0"/>
<circle cx="203.84" cy="314.33" r="1.5" fill="#b090e0"/>
<circle cx="232.20" cy="312.68" r="1.5" fill="#b090e0"/>
<polyline points="159.00,306.08 161.60,300.57 163.36,292.31 165.12,286.81 168.64,284.06 203.84,303.32 210.90,299.90" fill="none" stroke="#105050" stroke-width="1.25" stroke-linejoin="round"/>
<polyline points="219.10,295.92 232.20,289.56" fill="none" stroke="#105050" stroke-width="1.25" stroke-linejoin="round"/>
<circle cx="159.00" cy="306.08" r="1.5" fill="#105050"/>
<circle cx="161.60" cy="300.57" r="1.5" fill="#105050"/>
<circle cx="163.36" cy="292.31" r="1.5" fill="#105050"/>
<circle cx="165.12" cy="286.81" r="1.5" fill="#105050"/>
<circle cx="168.64" cy="284.06" r="1.5" fill="#105050"/>
<circle cx="203.84" cy="303.32" r="1.5" fill="#105050"/>
<circle cx="232.20" cy="289.56" r="1.5" fill="#105050"/>
<polyline points="159.00,322.59 161.60,314.33 163.36,308.83 165.12,303.32 168.64,300.02 203.84,306.63 210.90,307.72" fill="none" stroke="#d8a070" stroke-width="1.25" stroke-linejoin="round"/>
<polyline points="219.10,309.00 232.20,311.03" fill="none" stroke="#d8a070" stroke-width="1.25" stroke-linejoin="round"/>
<circle cx="159.00" cy="322.59" r="1.5" fill="#d8a070"/>
<circle cx="161.60" cy="314.33" r="1.5" fill="#d8a070"/>
<circle cx="163.36" cy="308.83" r="1.5" fill="#d8a070"/>
<circle cx="165.12" cy="303.32" r="1.5" fill="#d8a070"/>
<circle cx="168.64" cy="300.02" r="1.5" fill="#d8a070"/>
<circle cx="203.84" cy="306.63" r="1.5" fill="#d8a070"/>
<circle cx="232.20" cy="311.03" r="1.5" fill="#d8a070"/>
<line x1="241.4" y1="231.0" x2="249.4" y2="231.0" stroke="#111111" stroke-width="1.1" />
<circle cx="245.40" cy="231.00" r="1.4249999999999998" fill="#111111"/>
<text x="252.4" y="233.8" font-size="7.7" text-anchor="start" font-weight="bold" fill="#151515" stroke="#151515" stroke-width="0.3" >1</text>
<line x1="241.4" y1="239.7" x2="249.4" y2="239.7" stroke="#2030b0" stroke-width="1.1" />
<path d="M245.40,237.80 L247.30,239.70 L245.40,241.60 L243.50,239.70Z" fill="#2030b0"/>
<text x="252.4" y="242.5" font-size="7.7" text-anchor="start" font-weight="bold" fill="#151515" stroke="#151515" stroke-width="0.3" >2</text>
<line x1="241.4" y1="248.4" x2="249.4" y2="248.4" stroke="#9a8a40" stroke-width="1.1" />
<path d="M243.58,250.04 L247.22,250.04 L245.40,246.76Z" fill="#9a8a40"/>
<text x="252.4" y="251.20000000000002" font-size="7.7" text-anchor="start" font-weight="bold" fill="#151515" stroke="#151515" stroke-width="0.3" >3</text>
<line x1="241.4" y1="257.1" x2="249.4" y2="257.1" stroke="#60e0e8" stroke-width="1.1" />
<circle cx="245.40" cy="257.10" r="1.4249999999999998" fill="#60e0e8"/>
<text x="252.4" y="259.90000000000003" font-size="7.7" text-anchor="start" font-weight="bold" fill="#151515" stroke="#151515" stroke-width="0.3" >4</text>
<line x1="241.4" y1="265.8" x2="249.4" y2="265.8" stroke="#60e060" stroke-width="1.1" />
<circle cx="245.40" cy="265.80" r="1.4249999999999998" fill="#60e060"/>
<text x="252.4" y="268.6" font-size="7.7" text-anchor="start" font-weight="bold" fill="#151515" stroke="#151515" stroke-width="0.3" >5</text>
<line x1="241.4" y1="274.5" x2="249.4" y2="274.5" stroke="#e040e0" stroke-width="1.1" />
<path d="M245.40,272.24 L247.66,274.50 L245.40,276.76 L243.14,274.50Z" fill="#e040e0"/>
<text x="252.4" y="277.3" font-size="7.7" text-anchor="start" font-weight="bold" fill="#151515" stroke="#151515" stroke-width="0.3" >6</text>
<line x1="241.4" y1="283.2" x2="249.4" y2="283.2" stroke="#f08a30" stroke-width="1.1" />
<rect x="243.69" y="281.49" width="3.4294999999999995" height="3.4294999999999995" rx="1" fill="#f08a30"/>
<text x="252.4" y="286.0" font-size="7.7" text-anchor="start" font-weight="bold" fill="#151515" stroke="#151515" stroke-width="0.3" >7</text>
<line x1="241.4" y1="291.9" x2="249.4" y2="291.9" stroke="#602070" stroke-width="1.1" />
<path d="M243.46,293.64 L247.34,293.64 L245.40,290.16Z" fill="#602070"/>
<text x="252.4" y="294.7" font-size="7.7" text-anchor="start" font-weight="bold" fill="#151515" stroke="#151515" stroke-width="0.3" >8</text>
<line x1="241.4" y1="300.6" x2="249.4" y2="300.6" stroke="#e02040" stroke-width="1.1" />
<circle cx="245.40" cy="300.60" r="1.805" fill="#e02040"/>
<text x="252.4" y="303.40000000000003" font-size="7.7" text-anchor="start" font-weight="bold" fill="#151515" stroke="#151515" stroke-width="0.3" >9</text>
<line x1="241.4" y1="309.3" x2="249.4" y2="309.3" stroke="#f0f040" stroke-width="1.1" />
<circle cx="245.40" cy="309.30" r="1.805" fill="#f0f040"/>
<text x="252.4" y="312.1" font-size="7.7" text-anchor="start" font-weight="bold" fill="#151515" stroke="#151515" stroke-width="0.3" >10</text>
<line x1="241.4" y1="318.0" x2="249.4" y2="318.0" stroke="#404a60" stroke-width="1.1" />
<circle cx="245.40" cy="318.00" r="1.4249999999999998" fill="#404a60"/>
<text x="252.4" y="320.8" font-size="7.7" text-anchor="start" font-weight="bold" fill="#151515" stroke="#151515" stroke-width="0.3" >11</text>
<line x1="241.4" y1="326.7" x2="249.4" y2="326.7" stroke="#b090e0" stroke-width="1.1" />
<circle cx="245.40" cy="326.70" r="1.4249999999999998" fill="#b090e0"/>
<text x="252.4" y="329.5" font-size="7.7" text-anchor="start" font-weight="bold" fill="#151515" stroke="#151515" stroke-width="0.3" >12</text>
<line x1="241.4" y1="335.4" x2="249.4" y2="335.4" stroke="#105050" stroke-width="1.1" />
<circle cx="245.40" cy="335.40" r="1.4249999999999998" fill="#105050"/>
<text x="252.4" y="338.2" font-size="7.7" text-anchor="start" font-weight="bold" fill="#151515" stroke="#151515" stroke-width="0.3" >13</text>
<line x1="241.4" y1="344.1" x2="249.4" y2="344.1" stroke="#d8a070" stroke-width="1.1" />
<circle cx="245.40" cy="344.10" r="1.4249999999999998" fill="#d8a070"/>
<text x="252.4" y="346.90000000000003" font-size="7.7" text-anchor="start" font-weight="bold" fill="#151515" stroke="#151515" stroke-width="0.3" >14</text>
<line x1="326.45" y1="207.2" x2="326.45" y2="333.70000000000005" stroke="#3c3c3c" stroke-width="1.35" />
<line x1="324.05" y1="207.5" x2="326.45" y2="207.5" stroke="#262626" stroke-width="1.1" />
<text x="323.65" y="210.5" font-size="7.9" text-anchor="end" font-weight="normal" fill="#151515" stroke="#151515" stroke-width="0.1" >300</text>
<line x1="324.05" y1="249.36666666666667" x2="326.45" y2="249.36666666666667" stroke="#262626" stroke-width="1.1" />
<text x="323.65" y="252.36666666666667" font-size="7.9" text-anchor="end" font-weight="normal" fill="#151515" stroke="#151515" stroke-width="0.1" >200</text>
<line x1="324.05" y1="291.23333333333335" x2="326.45" y2="291.23333333333335" stroke="#262626" stroke-width="1.1" />
<text x="323.65" y="294.23333333333335" font-size="7.9" text-anchor="end" font-weight="normal" fill="#151515" stroke="#151515" stroke-width="0.1" >100</text>
<line x1="324.05" y1="333.1" x2="326.45" y2="333.1" stroke="#262626" stroke-width="1.1" />
<text x="323.65" y="336.1" font-size="7.9" text-anchor="end" font-weight="normal" fill="#151515" stroke="#151515" stroke-width="0.1" >0</text>
<line x1="326.95" y1="240.99333333333334" x2="488.45" y2="240.99333333333334" stroke="#aaa" stroke-width="1.1" stroke-dasharray="1.6 1.6" />
<line x1="494.95" y1="240.99333333333334" x2="511.45000000000005" y2="240.99333333333334" stroke="#aaa" stroke-width="1.1" stroke-dasharray="1.6 1.6" />
<line x1="326.95" y1="249.36666666666667" x2="488.45" y2="249.36666666666667" stroke="#333" stroke-width="1.1" stroke-dasharray="1.6 1.6" />
<line x1="494.95" y1="249.36666666666667" x2="511.45000000000005" y2="249.36666666666667" stroke="#333" stroke-width="1.1" stroke-dasharray="1.6 1.6" />
<line x1="326.95" y1="284.9533333333334" x2="488.45" y2="284.9533333333334" stroke="#bbb" stroke-width="1.1" stroke-dasharray="1.6 1.6" />
<line x1="494.95" y1="284.9533333333334" x2="511.45000000000005" y2="284.9533333333334" stroke="#bbb" stroke-width="1.1" stroke-dasharray="1.6 1.6" />
<line x1="326.95" y1="320.54" x2="488.45" y2="320.54" stroke="#333" stroke-width="1.1" stroke-dasharray="1.6 1.6" />
<line x1="494.95" y1="320.54" x2="511.45000000000005" y2="320.54" stroke="#333" stroke-width="1.1" stroke-dasharray="1.6 1.6" />
<line x1="326.45" y1="333.1" x2="488.95" y2="333.1" stroke="#262626" stroke-width="1.2" />
<line x1="494.45" y1="333.1" x2="512.45" y2="333.1" stroke="#262626" stroke-width="1.2" />
<line x1="488.95" y1="331.70000000000005" x2="488.95" y2="334.1" stroke="#262626" stroke-width="1.1" />
<line x1="494.45" y1="331.70000000000005" x2="494.45" y2="334.1" stroke="#262626" stroke-width="1.1" />
<line x1="334.84999999999997" y1="333.1" x2="334.84999999999997" y2="336.1" stroke="#262626" stroke-width="1.1" />
<text x="334.84999999999997" y="343.6" font-size="7.8" text-anchor="middle" font-weight="normal" fill="#151515" stroke="#151515" stroke-width="0.1" >0</text>
<line x1="345.98999999999995" y1="333.1" x2="345.98999999999995" y2="336.1" stroke="#262626" stroke-width="1.1" />
<text x="345.98999999999995" y="343.6" font-size="7.8" text-anchor="middle" font-weight="normal" fill="#151515" stroke="#151515" stroke-width="0.1" >2</text>
<line x1="357.13" y1="333.1" x2="357.13" y2="336.1" stroke="#262626" stroke-width="1.1" />
<text x="357.13" y="343.6" font-size="7.8" text-anchor="middle" font-weight="normal" fill="#151515" stroke="#151515" stroke-width="0.1" >4</text>
<line x1="468.53" y1="333.1" x2="468.53" y2="336.1" stroke="#262626" stroke-width="1.1" />
<text x="468.53" y="343.6" font-size="7.8" text-anchor="middle" font-weight="normal" fill="#151515" stroke="#151515" stroke-width="0.1" >24</text>
<line x1="512.45" y1="333.1" x2="512.45" y2="336.1" stroke="#262626" stroke-width="1.1" />
<text x="512.45" y="343.6" font-size="7.8" text-anchor="middle" font-weight="normal" fill="#151515" stroke="#151515" stroke-width="0.1" >72</text>
<line x1="326.25" y1="340.6" x2="326.25" y2="344.90000000000003" stroke="#111" stroke-width="1.3" />
<path d="M324.05,341.40000000000003 L328.45,341.40000000000003 L326.25,337.6Z" fill="#111"/>
<text x="328.95" y="350.95000000000005" font-size="6.1" text-anchor="middle" font-weight="bold" fill="#151515" stroke="#151515" stroke-width="0.3" >Pre-transfusion</text>
<text x="419.85" y="354.5" font-size="7.7" text-anchor="middle" font-weight="bold" fill="#151515" stroke="#151515" stroke-width="0.3" >Time post-transfusion (hr)</text>
<text transform="translate(303.0,268.5) rotate(-90)" font-size="7.6" text-anchor="middle" font-weight="bold" fill="#151515" stroke="#151515" stroke-width="0.3">Haptoglobin (mg/dL) &amp; LDH (U/L)</text>
<polyline points="326.45,296.26 334.85,299.61 340.42,299.61 345.99,299.61 357.13,299.19 468.53,297.93 489.25,297.54" fill="none" stroke="#3848cc" stroke-width="1.2" stroke-linejoin="round"/>
<polyline points="494.15,297.44 512.45,297.09" fill="none" stroke="#3848cc" stroke-width="1.2" stroke-linejoin="round"/>
<polyline points="326.45,298.77 334.85,301.28 340.42,301.07 345.99,301.07 357.13,301.07 468.53,297.93 489.25,297.54" fill="none" stroke="#dc3448" stroke-width="1.2" stroke-linejoin="round"/>
<polyline points="494.15,297.44 512.45,297.09" fill="none" stroke="#dc3448" stroke-width="1.2" stroke-linejoin="round"/>
<polyline points="326.45,270.72 334.85,273.65 340.42,274.07 345.99,273.23 357.13,274.91 468.53,273.23 489.25,271.65" fill="none" stroke="#3848cc" stroke-width="1.2" stroke-linejoin="round"/>
<polyline points="494.15,271.28 512.45,269.88" fill="none" stroke="#3848cc" stroke-width="1.2" stroke-linejoin="round"/>
<polyline points="326.45,269.04 334.85,273.65 340.42,264.44 345.99,270.72 357.13,274.49 468.53,268.63 489.25,268.23" fill="none" stroke="#dc3448" stroke-width="1.2" stroke-linejoin="round"/>
<polyline points="494.15,268.14 512.45,267.79" fill="none" stroke="#dc3448" stroke-width="1.2" stroke-linejoin="round"/>
<line x1="326.45" y1="292.0706666666667" x2="326.45" y2="300.444" stroke="#4a50c0" stroke-width="0.9" />
<line x1="324.7" y1="292.0706666666667" x2="328.2" y2="292.0706666666667" stroke="#4a50c0" stroke-width="0.9" />
<line x1="324.7" y1="300.444" x2="328.2" y2="300.444" stroke="#4a50c0" stroke-width="0.9" />
<line x1="334.84999999999997" y1="295.42" x2="334.84999999999997" y2="303.79333333333335" stroke="#4a50c0" stroke-width="0.9" />
<line x1="333.09999999999997" y1="295.42" x2="336.59999999999997" y2="295.42" stroke="#4a50c0" stroke-width="0.9" />
<line x1="333.09999999999997" y1="303.79333333333335" x2="336.59999999999997" y2="303.79333333333335" stroke="#4a50c0" stroke-width="0.9" />
<line x1="340.41999999999996" y1="295.42" x2="340.41999999999996" y2="303.79333333333335" stroke="#4a50c0" stroke-width="0.9" />
<line x1="338.66999999999996" y1="295.42" x2="342.16999999999996" y2="295.42" stroke="#4a50c0" stroke-width="0.9" />
<line x1="338.66999999999996" y1="303.79333333333335" x2="342.16999999999996" y2="303.79333333333335" stroke="#4a50c0" stroke-width="0.9" />
<line x1="345.98999999999995" y1="295.42" x2="345.98999999999995" y2="303.79333333333335" stroke="#4a50c0" stroke-width="0.9" />
<line x1="344.23999999999995" y1="295.42" x2="347.73999999999995" y2="295.42" stroke="#4a50c0" stroke-width="0.9" />
<line x1="344.23999999999995" y1="303.79333333333335" x2="347.73999999999995" y2="303.79333333333335" stroke="#4a50c0" stroke-width="0.9" />
<line x1="357.13" y1="295.41999999999996" x2="357.13" y2="302.956" stroke="#4a50c0" stroke-width="0.9" />
<line x1="355.38" y1="295.41999999999996" x2="358.88" y2="295.41999999999996" stroke="#4a50c0" stroke-width="0.9" />
<line x1="355.38" y1="302.956" x2="358.88" y2="302.956" stroke="#4a50c0" stroke-width="0.9" />
<line x1="468.53" y1="293.74533333333335" x2="468.53" y2="302.1186666666667" stroke="#4a50c0" stroke-width="0.9" />
<line x1="466.78" y1="293.74533333333335" x2="470.28" y2="293.74533333333335" stroke="#4a50c0" stroke-width="0.9" />
<line x1="466.78" y1="302.1186666666667" x2="470.28" y2="302.1186666666667" stroke="#4a50c0" stroke-width="0.9" />
<line x1="512.45" y1="292.908" x2="512.45" y2="301.28133333333335" stroke="#4a50c0" stroke-width="0.9" />
<line x1="510.70000000000005" y1="292.908" x2="514.2" y2="292.908" stroke="#4a50c0" stroke-width="0.9" />
<line x1="510.70000000000005" y1="301.28133333333335" x2="514.2" y2="301.28133333333335" stroke="#4a50c0" stroke-width="0.9" />
<line x1="326.45" y1="292.908" x2="326.45" y2="304.6306666666667" stroke="#c85070" stroke-width="0.9" />
<line x1="324.7" y1="292.908" x2="328.2" y2="292.908" stroke="#c85070" stroke-width="0.9" />
<line x1="324.7" y1="304.6306666666667" x2="328.2" y2="304.6306666666667" stroke="#c85070" stroke-width="0.9" />
<line x1="334.84999999999997" y1="295.0013333333334" x2="334.84999999999997" y2="307.5613333333333" stroke="#c85070" stroke-width="0.9" />
<line x1="333.09999999999997" y1="295.0013333333334" x2="336.59999999999997" y2="295.0013333333334" stroke="#c85070" stroke-width="0.9" />
<line x1="333.09999999999997" y1="307.5613333333333" x2="336.59999999999997" y2="307.5613333333333" stroke="#c85070" stroke-width="0.9" />
<line x1="340.41999999999996" y1="294.79200000000003" x2="340.41999999999996" y2="307.352" stroke="#c85070" stroke-width="0.9" />
<line x1="338.66999999999996" y1="294.79200000000003" x2="342.16999999999996" y2="294.79200000000003" stroke="#c85070" stroke-width="0.9" />
<line x1="338.66999999999996" y1="307.352" x2="342.16999999999996" y2="307.352" stroke="#c85070" stroke-width="0.9" />
<line x1="345.98999999999995" y1="294.79200000000003" x2="345.98999999999995" y2="307.352" stroke="#c85070" stroke-width="0.9" />
<line x1="344.23999999999995" y1="294.79200000000003" x2="347.73999999999995" y2="294.79200000000003" stroke="#c85070" stroke-width="0.9" />
<line x1="344.23999999999995" y1="307.352" x2="347.73999999999995" y2="307.352" stroke="#c85070" stroke-width="0.9" />
<line x1="357.13" y1="294.79200000000003" x2="357.13" y2="307.352" stroke="#c85070" stroke-width="0.9" />
<line x1="355.38" y1="294.79200000000003" x2="358.88" y2="294.79200000000003" stroke="#c85070" stroke-width="0.9" />
<line x1="355.38" y1="307.352" x2="358.88" y2="307.352" stroke="#c85070" stroke-width="0.9" />
<line x1="468.53" y1="290.396" x2="468.53" y2="305.468" stroke="#c85070" stroke-width="0.9" />
<line x1="466.78" y1="290.396" x2="470.28" y2="290.396" stroke="#c85070" stroke-width="0.9" />
<line x1="466.78" y1="305.468" x2="470.28" y2="305.468" stroke="#c85070" stroke-width="0.9" />
<line x1="512.45" y1="290.396" x2="512.45" y2="303.79333333333335" stroke="#c85070" stroke-width="0.9" />
<line x1="510.70000000000005" y1="290.396" x2="514.2" y2="290.396" stroke="#c85070" stroke-width="0.9" />
<line x1="510.70000000000005" y1="303.79333333333335" x2="514.2" y2="303.79333333333335" stroke="#c85070" stroke-width="0.9" />
<line x1="326.45" y1="267.3693333333333" x2="326.45" y2="274.068" stroke="#4a50c0" stroke-width="0.9" />
<line x1="324.7" y1="267.3693333333333" x2="328.2" y2="267.3693333333333" stroke="#4a50c0" stroke-width="0.9" />
<line x1="324.7" y1="274.068" x2="328.2" y2="274.068" stroke="#4a50c0" stroke-width="0.9" />
<line x1="334.84999999999997" y1="270.3" x2="334.84999999999997" y2="276.9986666666667" stroke="#4a50c0" stroke-width="0.9" />
<line x1="333.09999999999997" y1="270.3" x2="336.59999999999997" y2="270.3" stroke="#4a50c0" stroke-width="0.9" />
<line x1="333.09999999999997" y1="276.9986666666667" x2="336.59999999999997" y2="276.9986666666667" stroke="#4a50c0" stroke-width="0.9" />
<line x1="340.41999999999996" y1="270.71866666666665" x2="340.41999999999996" y2="277.4173333333333" stroke="#4a50c0" stroke-width="0.9" />
<line x1="338.66999999999996" y1="270.71866666666665" x2="342.16999999999996" y2="270.71866666666665" stroke="#4a50c0" stroke-width="0.9" />
<line x1="338.66999999999996" y1="277.4173333333333" x2="342.16999999999996" y2="277.4173333333333" stroke="#4a50c0" stroke-width="0.9" />
<line x1="345.98999999999995" y1="269.8813333333334" x2="345.98999999999995" y2="276.58000000000004" stroke="#4a50c0" stroke-width="0.9" />
<line x1="344.23999999999995" y1="269.8813333333334" x2="347.73999999999995" y2="269.8813333333334" stroke="#4a50c0" stroke-width="0.9" />
<line x1="344.23999999999995" y1="276.58000000000004" x2="347.73999999999995" y2="276.58000000000004" stroke="#4a50c0" stroke-width="0.9" />
<line x1="357.13" y1="272.3933333333334" x2="357.13" y2="277.4173333333334" stroke="#4a50c0" stroke-width="0.9" />
<line x1="355.38" y1="272.3933333333334" x2="358.88" y2="272.3933333333334" stroke="#4a50c0" stroke-width="0.9" />
<line x1="355.38" y1="277.4173333333334" x2="358.88" y2="277.4173333333334" stroke="#4a50c0" stroke-width="0.9" />
<line x1="468.53" y1="269.04400000000004" x2="468.53" y2="277.4173333333334" stroke="#4a50c0" stroke-width="0.9" />
<line x1="466.78" y1="269.04400000000004" x2="470.28" y2="269.04400000000004" stroke="#4a50c0" stroke-width="0.9" />
<line x1="466.78" y1="277.4173333333334" x2="470.28" y2="277.4173333333334" stroke="#4a50c0" stroke-width="0.9" />
<line x1="512.45" y1="266.95066666666673" x2="512.45" y2="272.812" stroke="#4a50c0" stroke-width="0.9" />
<line x1="510.70000000000005" y1="266.95066666666673" x2="514.2" y2="266.95066666666673" stroke="#4a50c0" stroke-width="0.9" />
<line x1="510.70000000000005" y1="272.812" x2="514.2" y2="272.812" stroke="#4a50c0" stroke-width="0.9" />
<line x1="326.45" y1="264.02" x2="326.45" y2="274.068" stroke="#c85070" stroke-width="0.9" />
<line x1="324.7" y1="264.02" x2="328.2" y2="264.02" stroke="#c85070" stroke-width="0.9" />
<line x1="324.7" y1="274.068" x2="328.2" y2="274.068" stroke="#c85070" stroke-width="0.9" />
<line x1="334.84999999999997" y1="269.4626666666667" x2="334.84999999999997" y2="277.836" stroke="#c85070" stroke-width="0.9" />
<line x1="333.09999999999997" y1="269.4626666666667" x2="336.59999999999997" y2="269.4626666666667" stroke="#c85070" stroke-width="0.9" />
<line x1="333.09999999999997" y1="277.836" x2="336.59999999999997" y2="277.836" stroke="#c85070" stroke-width="0.9" />
<line x1="340.41999999999996" y1="258.57733333333334" x2="340.41999999999996" y2="270.3" stroke="#c85070" stroke-width="0.9" />
<line x1="338.66999999999996" y1="258.57733333333334" x2="342.16999999999996" y2="258.57733333333334" stroke="#c85070" stroke-width="0.9" />
<line x1="338.66999999999996" y1="270.3" x2="342.16999999999996" y2="270.3" stroke="#c85070" stroke-width="0.9" />
<line x1="345.98999999999995" y1="266.9506666666666" x2="345.98999999999995" y2="274.4866666666667" stroke="#c85070" stroke-width="0.9" />
<line x1="344.23999999999995" y1="266.9506666666666" x2="347.73999999999995" y2="266.9506666666666" stroke="#c85070" stroke-width="0.9" />
<line x1="344.23999999999995" y1="274.4866666666667" x2="347.73999999999995" y2="274.4866666666667" stroke="#c85070" stroke-width="0.9" />
<line x1="357.13" y1="271.9746666666667" x2="357.13" y2="276.9986666666667" stroke="#c85070" stroke-width="0.9" />
<line x1="355.38" y1="271.9746666666667" x2="358.88" y2="271.9746666666667" stroke="#c85070" stroke-width="0.9" />
<line x1="355.38" y1="276.9986666666667" x2="358.88" y2="276.9986666666667" stroke="#c85070" stroke-width="0.9" />
<line x1="468.53" y1="263.60133333333334" x2="468.53" y2="273.64933333333335" stroke="#c85070" stroke-width="0.9" />
<line x1="466.78" y1="263.60133333333334" x2="470.28" y2="263.60133333333334" stroke="#c85070" stroke-width="0.9" />
<line x1="466.78" y1="273.64933333333335" x2="470.28" y2="273.64933333333335" stroke="#c85070" stroke-width="0.9" />
<line x1="512.45" y1="264.4386666666667" x2="512.45" y2="271.13733333333334" stroke="#c85070" stroke-width="0.9" />
<line x1="510.70000000000005" y1="264.4386666666667" x2="514.2" y2="264.4386666666667" stroke="#c85070" stroke-width="0.9" />
<line x1="510.70000000000005" y1="271.13733333333334" x2="514.2" y2="271.13733333333334" stroke="#c85070" stroke-width="0.9" />
<rect x="324.30" y="294.11" width="4.3" height="4.3" rx="1" fill="#1c2498"/>
<rect x="332.70" y="297.46" width="4.3" height="4.3" rx="1" fill="#1c2498"/>
<rect x="338.27" y="297.46" width="4.3" height="4.3" rx="1" fill="#1c2498"/>
<rect x="343.84" y="297.46" width="4.3" height="4.3" rx="1" fill="#1c2498"/>
<rect x="354.98" y="297.04" width="4.3" height="4.3" rx="1" fill="#1c2498"/>
<rect x="466.38" y="295.78" width="4.3" height="4.3" rx="1" fill="#1c2498"/>
<rect x="510.30" y="294.94" width="4.3" height="4.3" rx="1" fill="#1c2498"/>
<path d="M324.05,300.93 L328.85,300.93 L326.45,296.61Z" fill="#8c1028"/>
<path d="M332.45,303.44 L337.25,303.44 L334.85,299.12Z" fill="#8c1028"/>
<path d="M338.02,303.23 L342.82,303.23 L340.42,298.91Z" fill="#8c1028"/>
<path d="M343.59,303.23 L348.39,303.23 L345.99,298.91Z" fill="#8c1028"/>
<path d="M354.73,303.23 L359.53,303.23 L357.13,298.91Z" fill="#8c1028"/>
<path d="M466.13,300.09 L470.93,300.09 L468.53,295.77Z" fill="#8c1028"/>
<path d="M510.05,299.25 L514.85,299.25 L512.45,294.93Z" fill="#8c1028"/>
<path d="M326.45,268.42 L328.75,270.72 L326.45,273.02 L324.15,270.72Z" fill="#1c2498"/>
<path d="M334.85,271.35 L337.15,273.65 L334.85,275.95 L332.55,273.65Z" fill="#1c2498"/>
<path d="M340.42,271.77 L342.72,274.07 L340.42,276.37 L338.12,274.07Z" fill="#1c2498"/>
<path d="M345.99,270.93 L348.29,273.23 L345.99,275.53 L343.69,273.23Z" fill="#1c2498"/>
<path d="M357.13,272.61 L359.43,274.91 L357.13,277.21 L354.83,274.91Z" fill="#1c2498"/>
<path d="M468.53,270.93 L470.83,273.23 L468.53,275.53 L466.23,273.23Z" fill="#1c2498"/>
<path d="M512.45,267.58 L514.75,269.88 L512.45,272.18 L510.15,269.88Z" fill="#1c2498"/>
<circle cx="326.45" cy="269.04" r="2.2" fill="#8c1028"/>
<circle cx="334.85" cy="273.65" r="2.2" fill="#8c1028"/>
<circle cx="340.42" cy="264.44" r="2.2" fill="#8c1028"/>
<circle cx="345.99" cy="270.72" r="2.2" fill="#8c1028"/>
<circle cx="357.13" cy="274.49" r="2.2" fill="#8c1028"/>
<circle cx="468.53" cy="268.63" r="2.2" fill="#8c1028"/>
<circle cx="512.45" cy="267.79" r="2.2" fill="#8c1028"/>
<text x="332.3" y="213.7" font-size="6.75" fill="#1a1a1a" stroke="#1a1a1a" stroke-width="0.18"><tspan font-style="italic">P</tspan>=0.63</text>
<path d="M357.5,206.0 H356.0 V215.4 H357.5" fill="none" stroke="#1a1a1a" stroke-width="1.3"/>
<line x1="359.5" y1="206.6" x2="368.2" y2="206.6" stroke="#dc3448" stroke-width="1.2" />
<line x1="359.5" y1="214.6" x2="368.2" y2="214.6" stroke="#3848cc" stroke-width="1.2" />
<circle cx="363.80" cy="206.60" r="2.2" fill="#8c1028"/>
<path d="M363.80,212.30 L366.10,214.60 L363.80,216.90 L361.50,214.60Z" fill="#1c2498"/>
<text x="371.3" y="209.4" font-size="7.7" text-anchor="start" font-weight="bold" fill="#151515" stroke="#151515" stroke-width="0.3" >Older</text>
<text x="371.3" y="217.4" font-size="7.7" text-anchor="start" font-weight="bold" fill="#151515" stroke="#151515" stroke-width="0.3" >Fresh</text>
<path d="M394.3,206.0 H395.7 V215.4 H394.3" fill="none" stroke="#1a1a1a" stroke-width="1.3"/>
<text x="399.2" y="213.1" font-size="7.0" text-anchor="start" font-weight="normal" fill="#1a1a1a" stroke="#1a1a1a" stroke-width="0.1" >LDH</text>
<text x="332.3" y="232.9" font-size="6.75" fill="#1a1a1a" stroke="#1a1a1a" stroke-width="0.18"><tspan font-style="italic">P</tspan>=0.67</text>
<path d="M357.5,225.20000000000002 H356.0 V234.60000000000002 H357.5" fill="none" stroke="#1a1a1a" stroke-width="1.3"/>
<line x1="359.5" y1="225.8" x2="368.2" y2="225.8" stroke="#dc3448" stroke-width="1.2" />
<line x1="359.5" y1="233.8" x2="368.2" y2="233.8" stroke="#3848cc" stroke-width="1.2" />
<path d="M361.50,227.87 L366.10,227.87 L363.80,223.73Z" fill="#8c1028"/>
<rect x="361.70" y="231.70" width="4.2" height="4.2" rx="1" fill="#1c2498"/>
<text x="371.3" y="228.60000000000002" font-size="7.7" text-anchor="start" font-weight="bold" fill="#151515" stroke="#151515" stroke-width="0.3" >Older</text>
<text x="371.3" y="236.60000000000002" font-size="7.7" text-anchor="start" font-weight="bold" fill="#151515" stroke="#151515" stroke-width="0.3" >Fresh</text>
<path d="M394.3,225.20000000000002 H395.7 V234.60000000000002 H394.3" fill="none" stroke="#1a1a1a" stroke-width="1.3"/>
<text x="399.2" y="232.3" font-size="7.0" text-anchor="start" font-weight="normal" fill="#1a1a1a" stroke="#1a1a1a" stroke-width="0.1" >Haptoglobin</text>
</g>
</svg>
</body></html>
